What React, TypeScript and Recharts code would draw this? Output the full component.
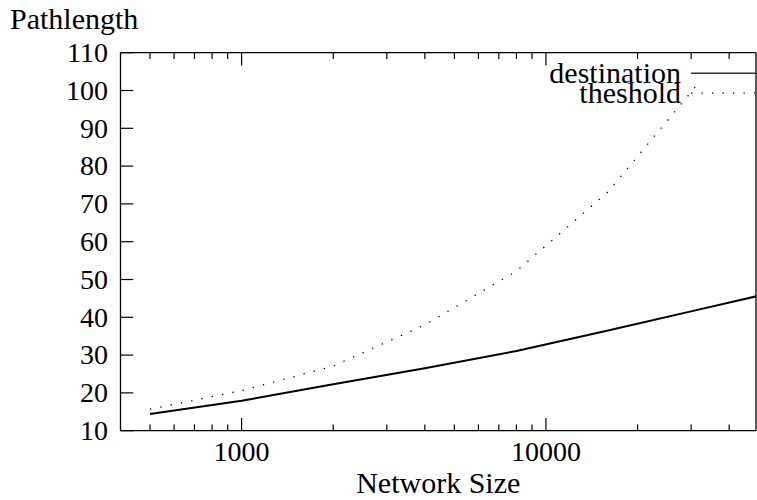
import React from "react";
import { LineChart, Line, XAxis, YAxis, Legend, Label } from "recharts";

// network sizes (log x axis)
const networkSizes = [500, 1000, 2000, 4000, 8000, 16000, 32000, 64000];
const destination = [14.4, 17.9, 22.3, 26.5, 31.1, 36.5, 42.1, 47.7];
const theshold = [15.7, 20.6, 27.1, 38.0, 52.2, 73.2, 102.3, null];

const seriesNames = ["destination", "theshold"];
const xTicks = [
  500, 600, 700, 800, 900, 1000, 2000, 3000, 4000, 5000, 6000, 7000, 8000, 9000,
  10000, 20000, 30000, 40000,
];
const xMajor = [1000, 10000];
const yTicks = [10, 20, 30, 40, 50, 60, 70, 80, 90, 100, 110];
const xLabel = "Network Size";
const yLabel = "Pathlength";

const data = networkSizes.map((n, i) => ({
  size: n,
  destination: destination[i],
  theshold: theshold[i],
}));

const FONT = "'Liberation Serif', 'DejaVu Serif', serif";
const TICK_FS = 28;
const LABEL_FS = 30;
const MAJOR = 12.7;
const MINOR = 6.3;
const dashes: Record<string, string | undefined> = {
  destination: undefined,
  theshold: "1.3 9.2",
};

function BottomTick({ x, y, payload }: any) {
  const major = xMajor.includes(payload.value);
  return (
    <g>
      <line x1={x} y1={y} x2={x} y2={y - (major ? MAJOR : MINOR)} stroke="#000" strokeWidth={1.2} />
      {major && (
        <text x={x} y={y + 30.3} textAnchor="middle" fontFamily={FONT} fontSize={TICK_FS} fill="#000">
          {payload.value}
        </text>
      )}
    </g>
  );
}

function TopTick({ x, y, payload }: any) {
  const major = xMajor.includes(payload.value);
  return <line x1={x} y1={y} x2={x} y2={y + (major ? MAJOR : MINOR)} stroke="#000" strokeWidth={1.2} />;
}

function LeftTick({ x, y, payload }: any) {
  return (
    <g>
      <line x1={x} y1={y} x2={x + MAJOR} y2={y} stroke="#000" strokeWidth={1.2} />
      <text x={x - 12.5} y={y} dy="0.33em" textAnchor="end" fontFamily={FONT} fontSize={TICK_FS} fill="#000">
        {payload.value}
      </text>
    </g>
  );
}

function RightTick({ x, y }: any) {
  return <line x1={x} y1={y} x2={x - MAJOR} y2={y} stroke="#000" strokeWidth={1.2} />;
}

function KeyBox() {
  return (
    <svg width={757} height={120} style={{ display: "block" }}>
      {seriesNames.map((name, i) => {
        const base = 83 + i * 20;
        return (
          <g key={name}>
            <text x={681} y={base} textAnchor="end" fontFamily={FONT} fontSize={LABEL_FS} fill="#000">
              {name}
            </text>
            <line
              x1={691}
              x2={757}
              y1={base - 9.8}
              y2={base - 9.8}
              stroke={dashes[name] ? "#000" : "#333"}
              strokeWidth={dashes[name] ? 1.3 : 1.6}
              strokeDasharray={dashes[name]}
            />
          </g>
        );
      })}
    </svg>
  );
}

export default function App() {
  return (
    <div style={{ position: "absolute", left: 0, top: 0, width: 757, height: 500, background: "#fff" }}>
      <LineChart width={757} height={500} data={data} margin={{ top: 51.7, right: 0, bottom: 0, left: 0 }}>
        <XAxis
          dataKey="size"
          type="number"
          scale="log"
          domain={[400, 49000]}
          allowDataOverflow
          ticks={xTicks}
          interval={0}
          height={69.3}
          tickSize={0}
          tickMargin={0}
          tickLine={false}
          tick={<BottomTick />}
          axisLine={{ stroke: "#000", strokeWidth: 1.3 }}
        >
          <Label value={xLabel} position="insideBottom" offset={7} fontFamily={FONT} fontSize={LABEL_FS} fill="#000" />
        </XAxis>
        <XAxis
          xAxisId="top"
          dataKey="size"
          orientation="top"
          type="number"
          scale="log"
          domain={[400, 49000]}
          allowDataOverflow
          ticks={xTicks}
          interval={0}
          height={1}
          tickSize={0}
          tickMargin={0}
          tickLine={false}
          tick={<TopTick />}
          axisLine={{ stroke: "#000", strokeWidth: 1.3 }}
        />
        <YAxis
          type="number"
          domain={[10, 110]}
          ticks={yTicks}
          interval={0}
          width={120.5}
          tickSize={0}
          tickMargin={0}
          tickLine={false}
          tick={<LeftTick />}
          axisLine={{ stroke: "#000", strokeWidth: 1.3 }}
        >
          <Label
            content={() => (
              <text x={10} y={29.3} fontFamily={FONT} fontSize={LABEL_FS} fill="#000">
                {yLabel}
              </text>
            )}
          />
        </YAxis>
        <YAxis
          yAxisId="right"
          orientation="right"
          type="number"
          domain={[10, 110]}
          ticks={yTicks}
          interval={0}
          width={1}
          tickSize={0}
          tickMargin={0}
          tickLine={false}
          tick={<RightTick />}
          axisLine={{ stroke: "#000", strokeWidth: 1.3 }}
        />
        <Legend
          layout="horizontal"
          verticalAlign="middle"
          align="center"
          wrapperStyle={{ top: 0, left: 0, width: 757, height: 120, pointerEvents: "none" }}
          content={() => <KeyBox />}
        />
        <Line
          dataKey="destination"
          name={seriesNames[0]}
          stroke="#000"
          strokeWidth={2}
          dot={false}
          isAnimationActive={false}
        />
        <Line
          dataKey="theshold"
          name={seriesNames[1]}
          stroke="#000"
          strokeWidth={1.3}
          strokeDasharray={dashes.theshold}
          dot={false}
          isAnimationActive={false}
        />
      </LineChart>
    </div>
  );
}
